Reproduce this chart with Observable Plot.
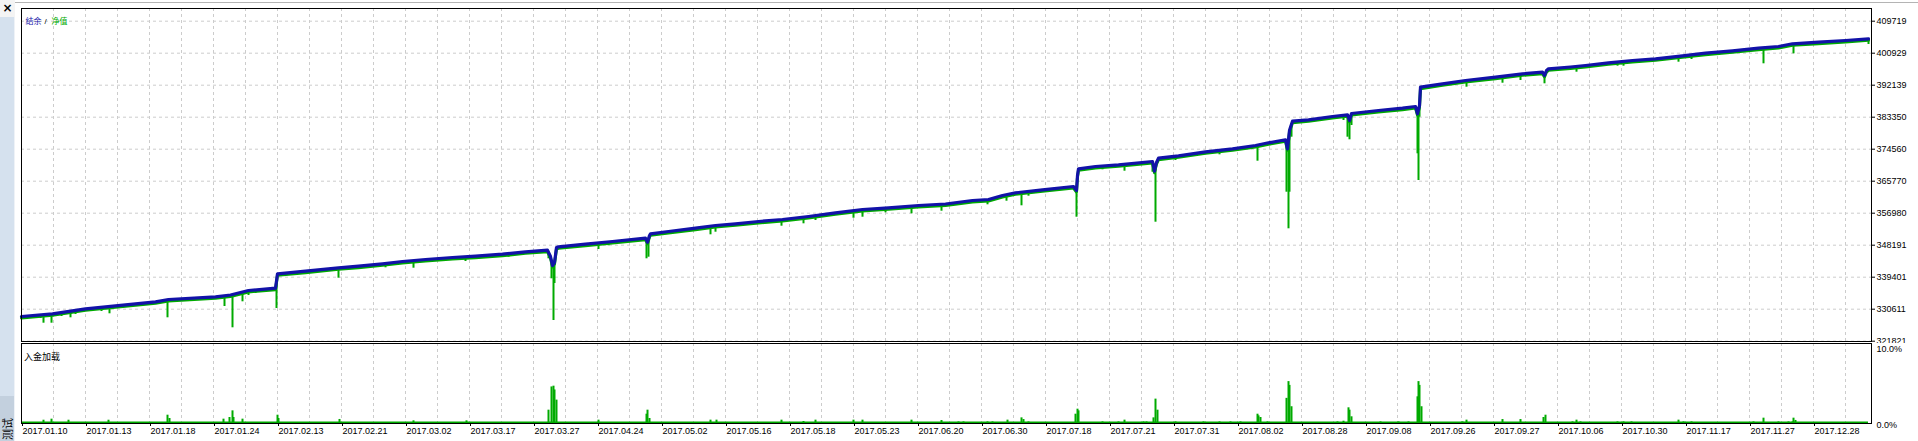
<!DOCTYPE html>
<html>
<head>
<meta charset="utf-8">
<script src="https://cdn.jsdelivr.net/npm/d3@7"></script>
<script src="https://cdn.jsdelivr.net/npm/@observablehq/plot@0.6"></script>
<style>
  html, body { margin: 0; padding: 0; background: #fff; }
  body { width: 1918px; height: 441px; overflow: hidden; position: relative; font-family: "Liberation Sans", Arial, sans-serif; }
  #side { position: absolute; left: 0; top: 0; width: 14px; height: 441px; background: #d5e1ee; border-right: 1px solid #eef2f7; }
  #closebox { position: absolute; left: 0; top: 0; width: 15px; height: 17px; background: #f4f4f4; font: bold 12px "DejaVu Sans", sans-serif; color: #000; text-align: center; line-height: 16px; }
  #tab { position: absolute; left: 0; top: 396px; width: 14px; height: 45px; background: #c3d0de; overflow: hidden; }
  #tab span { position: absolute; left: 7px; top: 33px; transform: translate(-50%, -50%) rotate(-90deg); font-size: 11px; line-height: 12px; font-family: "Noto Sans CJK SC", sans-serif; color: #000; white-space: nowrap; display: block; }
  #topline { position: absolute; left: 15px; top: 2px; width: 1903px; height: 1px; background: #b4b4b4; }
  #main { position: absolute; left: 0; top: 0; }
  #sub { position: absolute; left: 0; top: 343px; }
</style>
</head>
<body>
<div id="side"></div>
<div id="closebox">×</div>
<div id="tab"><span>测试</span></div>
<div id="topline"></div>
<div id="main"></div>
<div id="sub"></div>
<script>
// ---- x axis date labels (every 64 trades) ----
const dateLabels = ["2017.01.10","2017.01.13","2017.01.18","2017.01.24","2017.02.13","2017.02.21","2017.03.02","2017.03.17","2017.03.27","2017.04.24","2017.05.02","2017.05.16","2017.05.18","2017.05.23","2017.06.20","2017.06.30","2017.07.18","2017.07.21","2017.07.31","2017.08.02","2017.08.28","2017.09.08","2017.09.26","2017.09.27","2017.10.06","2017.10.30","2017.11.17","2017.11.27","2017.12.28"];
// ---- y tick labels of the balance panel ----
const yTickValues = [321821, 330611, 339401, 348191, 356980, 365770, 374560, 383350, 392139, 400929, 409719];
const loadTickValues = [0, 10];

// ---- balance (trade number, value) ----
const balanceTrade = [0,31,64,94,134,147,194,209,214,227,254,256,284,317,337,361,381,404,431,454,481,504,526,529,531,533,535,537,564,591,624,626,628,629,647,674,694,714,737,761,787,814,841,867,897,924,951,967,981,994,1021,1052,1055,1056,1057,1074,1097,1131,1133,1135,1137,1157,1184,1211,1234,1247,1264,1266,1268,1269,1271,1287,1311,1326,1328,1330,1357,1381,1394,1396,1398,1399,1421,1444,1474,1501,1521,1523,1525,1527,1549,1564,1587,1611,1634,1661,1684,1711,1737,1757,1771,1797,1824,1847];
const balanceValue = [328606,329347,330721,331545,332643,333275,334017,334511,334841,335747,336379,340334,341049,341983,342422,343081,343713,344262,344812,345169,345718,346377,346817,345086,342614,343438,347558,347751,348465,349207,350113,349014,350855,351322,351953,352860,353601,354068,354700,355250,356074,357090,357996,358463,359095,359507,360468,360743,361842,362583,363408,364314,363215,367335,369176,369808,370274,371181,368517,370906,372087,372747,373845,374669,375576,376317,377142,374669,379696,380603,382251,382635,383542,384009,382443,384366,385190,385821,386288,384283,386563,391590,392524,393430,394337,395271,395710,394803,396177,396644,397138,397550,398292,398924,399391,400215,400929,401588,402302,402769,403511,403950,404417,404884];

// ---- equity drawdown lows (trade number, lowest equity) ----
const dipTrade = [19,22,30,40,49,54,80,88,130,146,162,192,203,211,221,227,234,255,317,364,392,444,487,527,530,532,533,577,587,625,627,689,694,760,782,794,832,841,864,890,920,966,985,1000,1007,1055,1081,1103,1131,1134,1154,1198,1217,1236,1265,1267,1268,1270,1322,1326,1328,1330,1377,1396,1397,1398,1445,1481,1499,1523,1555,1596,1602,1657,1670,1742,1772,1847];
const dipLow = [328056,326765,326765,328606,328248,329155,329979,329347,331627,328248,332726,333275,331352,325502,332643,334374,334923,330803,339126,341983,341873,343713,344894,344455,338961,327507,337670,347009,348025,344455,344894,351047,351761,353409,354068,354975,355607,355881,357090,356815,357529,359287,360276,359013,361650,355881,368901,368517,368242,354508,371456,373021,374202,371263,362748,352695,362748,377856,382443,377856,377142,381069,384915,373296,365962,383349,391590,392688,393430,392524,395710,397358,397358,398457,399198,398017,400764,403319];

// ---- deposit load % (trade number, percent) ----
const loadTrade = [22,30,37,47,57,61,87,109,114,131,137,146,148,164,192,202,208,211,212,221,227,256,257,279,318,357,392,417,445,456,482,527,530,532,533,535,577,587,625,626,628,651,689,695,730,760,782,794,812,819,832,841,854,890,920,937,942,966,971,986,1000,1002,1007,1054,1056,1057,1081,1097,1103,1122,1125,1132,1134,1136,1154,1182,1198,1209,1219,1236,1237,1239,1246,1265,1267,1268,1270,1316,1322,1327,1328,1330,1359,1377,1387,1396,1397,1398,1400,1441,1445,1481,1499,1511,1522,1524,1547,1551,1555,1559,1596,1602,1610,1632,1657,1662,1670,1732,1742,1757,1767,1771,1772,1774];
const loadPct = [0.43,0.57,0.13,0.43,0.13,0.13,0.43,0.13,0.13,0.13,0.13,1.09,0.66,0.13,0.13,0.57,0.79,1.66,0.79,0.57,0.13,1.09,0.66,0.13,0.53,0.13,0.35,0.13,0.35,0.13,0.13,1.75,4.8,4.9,4.4,3.07,0.44,0.13,1.22,1.75,0.66,0.13,0.44,0.44,0.13,0.44,0.26,0.44,0.13,0.13,0.44,0.44,0.13,0.44,0.39,0.21,0.21,0.21,0.21,0.44,0.74,0.52,0.21,1.22,1.88,1.66,0.21,0.21,0.44,0.21,0.21,0.74,3.2,1.75,0.21,0.21,0.21,0.21,0.21,1.22,1.0,0.79,0.21,3.3,5.5,5.0,2.2,0.21,0.3,2.06,1.75,0.88,0.21,0.21,0.21,3.5,5.5,5.0,2.2,0.21,0.44,0.52,0.52,0.13,0.79,1.09,0.13,0.21,0.44,0.21,0.21,0.21,0.21,0.13,0.44,0.21,0.21,0.21,0.7,0.21,0.21,0.21,0.7,0.4];

// ---- build tables ----
const balance = balanceTrade.map((t, i) => ({trade: t, value: balanceValue[i]}));
const balAt = t => {
  const i = d3.bisector(d => d.trade).left(balance, t);
  if (i <= 0) return balance[0].value;
  if (i >= balance.length) return balance[balance.length - 1].value;
  const a = balance[i - 1], b = balance[i];
  if (b.trade === t) return b.value;
  return a.value + (b.value - a.value) * (t - a.trade) / (b.trade - a.trade);
};
const dips = dipTrade.map((t, i) => ({trade: t, low: dipLow[i], top: balAt(t)}));
const load = loadTrade.map((t, i) => ({trade: t, pct: loadPct[i]}));

const BLUE = "#1212a8", GREEN = "#00aa00", GRID = "#cccccc";
const nTrades = 1850;
const gridTicks = d3.range(32, nTrades, 32);
const labelTicks = dateLabels.map((_, i) => i * 64);
const lastTrade = d3.max(balanceTrade);

// y scale domain: plot spans 333px, one tick step per 32px
const step = (yTickValues[yTickValues.length - 1] - yTickValues[0]) / (yTickValues.length - 1);
const yMin = yTickValues[0] - 0.3 * step / 32;
const yMax = yMin + 333 * step / 32;

const font = "'Liberation Sans', Arial, sans-serif";

const main = Plot.plot({
  width: 1918, height: 343,
  marginLeft: 21, marginRight: 47, marginTop: 8, marginBottom: 2,
  x: {domain: [0, nTrades], axis: null},
  y: {domain: [yMin, yMax], label: null},
  style: {fontFamily: font, fontSize: "9px", background: "transparent", color: "#000", overflow: "hidden"},
  marks: [
    Plot.gridX(gridTicks, {stroke: GRID, strokeOpacity: 1, strokeDasharray: "3,3"}),
    Plot.gridY(yTickValues, {stroke: GRID, strokeOpacity: 1, strokeDasharray: "3,3"}),
    Plot.line(balance, {x: "trade", y: "value", stroke: GREEN, strokeWidth: 3, dy: 1.5}),
    Plot.ruleX(dips, {x: "trade", y1: "top", y2: "low", stroke: GREEN, strokeWidth: 2}),
    Plot.line(balance, {x: "trade", y: "value", stroke: BLUE, strokeWidth: 3.2}),
    Plot.axisY(yTickValues, {anchor: "right", label: null, tickSize: 3, tickPadding: 2, tickFormat: d => String(d), fontSize: 9}),
    Plot.frame({stroke: "#000", strokeWidth: 1}),
    Plot.text(["结余"], {frameAnchor: "top-left", dx: 4, dy: 9.5, fill: BLUE, fontSize: 8, textAnchor: "start", fontFamily: "'Noto Sans CJK SC', sans-serif"}),
    Plot.text(["/"], {frameAnchor: "top-left", dx: 23, dy: 9.5, fill: "#000", fontSize: 8, textAnchor: "start"}),
    Plot.text(["净值"], {frameAnchor: "top-left", dx: 30, dy: 9.5, fill: GREEN, fontSize: 8, textAnchor: "start", fontFamily: "'Noto Sans CJK SC', sans-serif"})
  ]
});
document.getElementById("main").appendChild(main);

const sub = Plot.plot({
  width: 1918, height: 98,
  marginLeft: 21, marginRight: 47, marginTop: 0, marginBottom: 18,
  x: {domain: [0, nTrades], label: null},
  y: {domain: [0, 10.5], label: null},
  style: {fontFamily: font, fontSize: "9px", background: "transparent", color: "#000", overflow: "visible"},
  marks: [
    Plot.gridX(gridTicks, {stroke: GRID, strokeOpacity: 1, strokeDasharray: "3,3"}),
    Plot.ruleY([0], {x1: 0, x2: lastTrade, stroke: GREEN, strokeWidth: 2, dy: -1}),
    Plot.ruleX(load, {x: "trade", y1: 0, y2: "pct", stroke: GREEN, strokeWidth: 2}),
    Plot.axisY(loadTickValues, {anchor: "right", label: null, tickSize: 0, tickPadding: 5, tickFormat: d => d.toFixed(1) + "%", dy: 2, fontSize: 9}),
    Plot.axisX(labelTicks, {anchor: "bottom", label: null, tickSize: 3, tickPadding: 1, tickFormat: (d, i) => dateLabels[i], textAnchor: "start", dx: 1, fontSize: 9}),
    Plot.frame({stroke: "#000", strokeWidth: 1}),
    Plot.text(["入金加载"], {frameAnchor: "top-left", dx: 2.5, dy: 9.7, fill: "#000", fontSize: 9, textAnchor: "start", fontFamily: "'Noto Sans CJK SC', sans-serif"})
  ]
});
document.getElementById("sub").appendChild(sub);
</script>
</body>
</html>
